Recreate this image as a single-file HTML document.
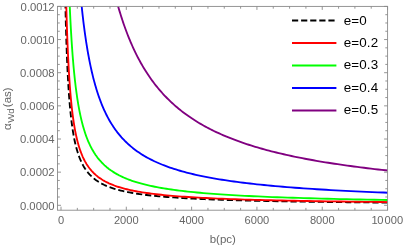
<!DOCTYPE html>
<html><head><meta charset="utf-8"><style>
html,body{margin:0;padding:0;background:#fff;}
body{width:405px;height:245px;position:relative;overflow:hidden;font-family:"Liberation Sans",sans-serif;}
.t{position:absolute;left:0;top:0;width:405px;height:245px;will-change:transform;transform:translateZ(0);}
.xt{position:absolute;top:212.9px;width:60px;text-align:center;font-size:11.1px;line-height:14px;color:#666;white-space:nowrap}
.yt{position:absolute;left:0;width:54.5px;text-align:right;font-size:11.3px;line-height:14px;color:#666}
.lg{position:absolute;left:343.7px;font-size:13.4px;line-height:16px;color:#000;letter-spacing:0.15px;white-space:nowrap}
.o{margin:0 -0.35px}
.xl{position:absolute;left:192.8px;width:60px;text-align:center;top:231.6px;font-size:11.5px;line-height:14px;color:#666}
.yl{position:absolute;left:-0.2px;top:129.9px;transform-origin:0 0;transform:rotate(-90deg);white-space:nowrap;font-size:11.5px;line-height:14px;color:#666}
.yl span{font-size:9.7px;position:relative;top:2.5px;margin:0 1.2px 0 0.5px}
</style></head><body>
<svg width="405" height="245" viewBox="0 0 405 245" style="position:absolute;left:0;top:0">
<defs><clipPath id="c"><rect x="57.5" y="6.4" width="330.1" height="203.79999999999998"/></clipPath></defs>
<g clip-path="url(#c)" fill="none" stroke-width="1.85" stroke-linejoin="round">
<path d="M65.16,-6.86 L65.27,-1.11 L65.39,4.48 L65.52,9.93 L65.64,15.22 L65.77,20.37 L65.90,25.38 L66.04,30.26 L66.18,35.00 L66.32,39.62 L66.47,44.11 L66.63,48.48 L66.78,52.73 L66.94,56.86 L67.11,60.88 L67.28,64.80 L67.45,68.61 L67.63,72.31 L67.82,75.91 L68.01,79.42 L68.20,82.83 L68.40,86.15 L68.61,89.38 L68.82,92.52 L69.04,95.58 L69.26,98.55 L69.49,101.44 L69.73,104.26 L69.97,107.00 L70.22,109.66 L70.48,112.25 L70.75,114.77 L71.02,117.23 L71.30,119.61 L71.58,121.94 L71.88,124.20 L72.18,126.39 L72.49,128.53 L72.81,130.61 L73.14,132.64 L73.48,134.61 L73.83,136.52 L74.18,138.39 L74.55,140.20 L74.93,141.96 L75.32,143.68 L75.72,145.35 L76.13,146.97 L76.55,148.56 L76.98,150.09 L77.43,151.59 L77.88,153.04 L78.35,154.46 L78.84,155.84 L79.33,157.18 L79.84,158.48 L80.37,159.75 L80.91,160.99 L81.46,162.19 L82.03,163.36 L82.62,164.49 L83.22,165.60 L83.84,166.67 L84.48,167.72 L85.13,168.74 L85.80,169.73 L86.49,170.69 L87.20,171.63 L87.93,172.54 L88.68,173.43 L89.46,174.30 L90.25,175.14 L91.06,175.95 L91.90,176.75 L92.76,177.52 L93.65,178.28 L94.56,179.01 L95.49,179.72 L96.45,180.41 L97.44,181.09 L98.45,181.74 L99.50,182.38 L100.57,183.00 L101.67,183.61 L102.80,184.20 L103.97,184.77 L105.17,185.32 L106.40,185.87 L107.66,186.39 L108.96,186.90 L110.30,187.40 L111.67,187.89 L113.08,188.36 L114.53,188.82 L116.02,189.27 L117.55,189.70 L119.13,190.12 L120.75,190.53 L122.41,190.93 L124.12,191.32 L125.88,191.70 L127.69,192.07 L129.55,192.43 L131.46,192.78 L133.42,193.12 L135.44,193.45 L137.51,193.77 L139.64,194.08 L141.83,194.39 L144.08,194.68 L146.40,194.97 L148.78,195.25 L151.22,195.52 L153.73,195.79 L156.32,196.04 L158.97,196.30 L161.70,196.54 L164.51,196.78 L167.39,197.01 L170.35,197.23 L173.40,197.45 L176.53,197.66 L179.75,197.87 L183.06,198.07 L186.46,198.27 L189.95,198.46 L193.54,198.64 L197.24,198.82 L201.03,199.00 L204.93,199.17 L208.94,199.34 L213.06,199.50 L217.30,199.66 L221.65,199.81 L226.13,199.96 L230.73,200.10 L235.45,200.24 L240.31,200.38 L245.31,200.51 L250.44,200.64 L255.72,200.77 L261.14,200.89 L266.72,201.01 L272.45,201.13 L278.34,201.24 L284.39,201.35 L290.61,201.46 L297.01,201.56 L303.58,201.66 L310.34,201.76 L317.29,201.86 L324.43,201.95 L331.76,202.04 L339.31,202.13 L347.06,202.22 L355.03,202.30 L363.22,202.38 L371.64,202.46 L380.29,202.54 L389.18,202.61" stroke="#000000" stroke-dasharray="6.2 2.9"/>
<path d="M65.97,-6.86 L66.11,-1.34 L66.24,4.03 L66.38,9.26 L66.53,14.36 L66.68,19.33 L66.83,24.16 L66.98,28.87 L67.14,33.46 L67.31,37.93 L67.47,42.28 L67.65,46.52 L67.82,50.65 L68.01,54.67 L68.19,58.59 L68.39,62.40 L68.58,66.12 L68.79,69.74 L68.99,73.26 L69.21,76.69 L69.43,80.04 L69.65,83.30 L69.88,86.47 L70.12,89.56 L70.36,92.57 L70.61,95.50 L70.87,98.35 L71.13,101.14 L71.40,103.84 L71.68,106.48 L71.97,109.05 L72.26,111.55 L72.56,113.99 L72.87,116.37 L73.18,118.68 L73.51,120.93 L73.84,123.13 L74.19,125.26 L74.54,127.34 L74.90,129.37 L75.27,131.34 L75.65,133.27 L76.04,135.14 L76.45,136.97 L76.86,138.74 L77.28,140.47 L77.72,142.16 L78.16,143.80 L78.62,145.40 L79.09,146.96 L79.57,148.47 L80.07,149.95 L80.58,151.39 L81.10,152.79 L81.64,154.16 L82.19,155.49 L82.75,156.78 L83.34,158.05 L83.93,159.27 L84.54,160.47 L85.17,161.64 L85.82,162.77 L86.48,163.88 L87.16,164.95 L87.86,166.00 L88.58,167.03 L89.31,168.02 L90.07,168.99 L90.84,169.93 L91.64,170.85 L92.46,171.75 L93.30,172.62 L94.16,173.47 L95.05,174.30 L95.96,175.11 L96.89,175.89 L97.85,176.66 L98.83,177.40 L99.84,178.13 L100.88,178.83 L101.94,179.52 L103.03,180.19 L104.16,180.84 L105.31,181.48 L106.49,182.10 L107.71,182.70 L108.95,183.29 L110.23,183.86 L111.55,184.42 L112.90,184.96 L114.28,185.49 L115.71,186.01 L117.17,186.51 L118.67,187.00 L120.21,187.47 L121.79,187.94 L123.41,188.39 L125.07,188.83 L126.79,189.26 L128.54,189.67 L130.34,190.08 L132.20,190.48 L134.10,190.86 L136.05,191.24 L138.05,191.60 L140.11,191.96 L142.22,192.31 L144.39,192.64 L146.62,192.97 L148.90,193.29 L151.25,193.61 L153.66,193.91 L156.13,194.21 L158.67,194.49 L161.28,194.77 L163.96,195.05 L166.70,195.32 L169.53,195.57 L172.42,195.83 L175.40,196.07 L178.45,196.31 L181.59,196.55 L184.81,196.78 L188.11,197.00 L191.51,197.21 L194.99,197.42 L198.57,197.63 L202.24,197.83 L206.01,198.02 L209.88,198.21 L213.86,198.40 L217.94,198.57 L222.13,198.75 L226.43,198.92 L230.85,199.09 L235.38,199.25 L240.04,199.40 L244.82,199.56 L249.72,199.71 L254.76,199.85 L259.93,199.99 L265.25,200.13 L270.70,200.27 L276.30,200.40 L282.04,200.53 L287.95,200.65 L294.00,200.77 L300.23,200.89 L306.61,201.00 L313.17,201.11 L319.90,201.22 L326.81,201.33 L333.91,201.43 L341.20,201.53 L348.68,201.63 L356.36,201.73 L364.24,201.82 L372.34,201.91 L380.65,202.00 L389.18,202.08" stroke="#ff0000"/>
<path d="M69.21,-6.86 L69.41,-2.00 L69.60,2.76 L69.81,7.40 L70.01,11.94 L70.22,16.37 L70.44,20.70 L70.66,24.93 L70.89,29.07 L71.12,33.11 L71.36,37.06 L71.60,40.91 L71.85,44.68 L72.11,48.36 L72.37,51.96 L72.63,55.48 L72.91,58.91 L73.19,62.27 L73.47,65.55 L73.76,68.75 L74.06,71.88 L74.37,74.94 L74.68,77.93 L75.00,80.85 L75.33,83.70 L75.67,86.49 L76.01,89.21 L76.37,91.88 L76.73,94.48 L77.10,97.02 L77.47,99.50 L77.86,101.92 L78.25,104.29 L78.66,106.61 L79.07,108.87 L79.50,111.08 L79.93,113.24 L80.38,115.35 L80.83,117.42 L81.30,119.43 L81.77,121.40 L82.26,123.32 L82.76,125.20 L83.27,127.04 L83.79,128.83 L84.33,130.59 L84.87,132.30 L85.43,133.97 L86.01,135.61 L86.59,137.21 L87.19,138.77 L87.81,140.29 L88.44,141.78 L89.08,143.24 L89.74,144.66 L90.42,146.05 L91.11,147.41 L91.81,148.74 L92.54,150.03 L93.28,151.30 L94.03,152.54 L94.81,153.75 L95.60,154.93 L96.41,156.08 L97.24,157.21 L98.09,158.32 L98.96,159.39 L99.86,160.45 L100.77,161.47 L101.70,162.48 L102.66,163.46 L103.63,164.42 L104.63,165.36 L105.66,166.27 L106.70,167.17 L107.78,168.04 L108.87,168.90 L110.00,169.73 L111.15,170.55 L112.32,171.34 L113.53,172.12 L114.76,172.88 L116.02,173.62 L117.31,174.35 L118.63,175.06 L119.99,175.75 L121.37,176.43 L122.79,177.09 L124.24,177.74 L125.72,178.37 L127.24,178.99 L128.79,179.59 L130.38,180.18 L132.01,180.76 L133.68,181.32 L135.38,181.87 L137.13,182.41 L138.92,182.93 L140.74,183.44 L142.61,183.95 L144.53,184.44 L146.49,184.91 L148.50,185.38 L150.55,185.84 L152.65,186.28 L154.80,186.72 L157.00,187.15 L159.25,187.56 L161.56,187.97 L163.92,188.37 L166.33,188.75 L168.80,189.13 L171.33,189.50 L173.92,189.87 L176.57,190.22 L179.28,190.57 L182.06,190.90 L184.90,191.23 L187.81,191.56 L190.78,191.87 L193.83,192.18 L196.94,192.48 L200.13,192.77 L203.40,193.06 L206.74,193.34 L210.16,193.62 L213.66,193.88 L217.24,194.15 L220.91,194.40 L224.66,194.65 L228.50,194.89 L232.43,195.13 L236.45,195.37 L240.57,195.59 L244.78,195.82 L249.09,196.03 L253.51,196.25 L258.03,196.45 L262.65,196.66 L267.38,196.86 L272.22,197.05 L277.18,197.24 L282.25,197.42 L287.44,197.60 L292.75,197.78 L298.19,197.95 L303.76,198.12 L309.45,198.29 L315.28,198.45 L321.25,198.60 L327.36,198.76 L333.61,198.91 L340.00,199.05 L346.55,199.20 L353.25,199.34 L360.11,199.47 L367.12,199.61 L374.31,199.74 L381.66,199.86 L389.18,199.99" stroke="#00ff00"/>
<path d="M80.39,-6.86 L80.74,-3.12 L81.09,0.56 L81.45,4.17 L81.82,7.71 L82.19,11.20 L82.57,14.62 L82.96,17.98 L83.35,21.29 L83.76,24.53 L84.16,27.72 L84.58,30.85 L85.00,33.93 L85.43,36.95 L85.87,39.92 L86.32,42.83 L86.77,45.70 L87.24,48.51 L87.71,51.28 L88.19,53.99 L88.68,56.66 L89.17,59.28 L89.68,61.86 L90.19,64.39 L90.72,66.87 L91.25,69.31 L91.79,71.71 L92.35,74.07 L92.91,76.38 L93.48,78.66 L94.06,80.89 L94.66,83.08 L95.26,85.24 L95.88,87.36 L96.50,89.44 L97.14,91.48 L97.79,93.49 L98.45,95.46 L99.12,97.39 L99.81,99.30 L100.50,101.17 L101.21,103.00 L101.93,104.81 L102.67,106.58 L103.42,108.32 L104.18,110.03 L104.95,111.71 L105.74,113.36 L106.54,114.98 L107.36,116.57 L108.19,118.14 L109.04,119.68 L109.90,121.19 L110.78,122.67 L111.68,124.13 L112.59,125.56 L113.51,126.96 L114.45,128.35 L115.41,129.70 L116.39,131.04 L117.38,132.35 L118.40,133.63 L119.43,134.90 L120.48,136.14 L121.54,137.36 L122.63,138.55 L123.74,139.73 L124.86,140.89 L126.01,142.02 L127.18,143.14 L128.36,144.24 L129.57,145.31 L130.80,146.37 L132.06,147.41 L133.33,148.43 L134.63,149.43 L135.95,150.42 L137.30,151.39 L138.67,152.34 L140.06,153.27 L141.48,154.19 L142.93,155.09 L144.40,155.98 L145.89,156.85 L147.42,157.70 L148.97,158.54 L150.55,159.36 L152.16,160.17 L153.79,160.97 L155.46,161.75 L157.15,162.52 L158.88,163.27 L160.64,164.01 L162.43,164.74 L164.25,165.46 L166.10,166.16 L167.99,166.85 L169.91,167.53 L171.86,168.19 L173.85,168.85 L175.88,169.49 L177.94,170.12 L180.04,170.74 L182.18,171.35 L184.35,171.95 L186.56,172.54 L188.82,173.12 L191.11,173.68 L193.45,174.24 L195.83,174.79 L198.25,175.33 L200.71,175.86 L203.22,176.38 L205.77,176.89 L208.37,177.39 L211.02,177.88 L213.71,178.36 L216.45,178.84 L219.24,179.30 L222.08,179.76 L224.97,180.21 L227.92,180.66 L230.91,181.09 L233.96,181.52 L237.07,181.94 L240.23,182.35 L243.44,182.75 L246.72,183.15 L250.05,183.54 L253.45,183.93 L256.90,184.30 L260.42,184.67 L264.00,185.04 L267.64,185.39 L271.35,185.74 L275.13,186.09 L278.97,186.43 L282.88,186.76 L286.87,187.09 L290.92,187.41 L295.05,187.72 L299.25,188.03 L303.53,188.34 L307.88,188.64 L312.31,188.93 L316.82,189.22 L321.42,189.50 L326.09,189.78 L330.85,190.06 L335.69,190.32 L340.62,190.59 L345.64,190.85 L350.75,191.10 L355.95,191.35 L361.25,191.60 L366.64,191.84 L372.13,192.08 L377.71,192.31 L383.40,192.54 L389.18,192.77" stroke="#0000ff"/>
<path d="M114.57,-6.86 L115.19,-4.46 L115.81,-2.08 L116.44,0.27 L117.07,2.60 L117.72,4.89 L118.37,7.17 L119.02,9.41 L119.69,11.63 L120.36,13.83 L121.04,16.00 L121.73,18.14 L122.43,20.26 L123.13,22.36 L123.84,24.44 L124.57,26.49 L125.29,28.51 L126.03,30.52 L126.78,32.50 L127.53,34.46 L128.29,36.39 L129.06,38.31 L129.85,40.20 L130.63,42.07 L131.43,43.92 L132.24,45.75 L133.06,47.56 L133.88,49.35 L134.72,51.11 L135.56,52.86 L136.42,54.59 L137.28,56.30 L138.16,57.99 L139.04,59.66 L139.94,61.31 L140.84,62.94 L141.76,64.55 L142.68,66.15 L143.62,67.73 L144.57,69.28 L145.53,70.83 L146.49,72.35 L147.47,73.86 L148.47,75.35 L149.47,76.82 L150.48,78.28 L151.51,79.72 L152.55,81.14 L153.60,82.55 L154.66,83.94 L155.73,85.31 L156.82,86.67 L157.92,88.02 L159.03,89.35 L160.15,90.66 L161.29,91.96 L162.44,93.25 L163.60,94.52 L164.78,95.77 L165.97,97.01 L167.17,98.24 L168.39,99.45 L169.62,100.65 L170.86,101.84 L172.12,103.01 L173.40,104.17 L174.69,105.32 L175.99,106.45 L177.31,107.57 L178.64,108.68 L179.99,109.78 L181.35,110.86 L182.73,111.93 L184.13,112.99 L185.54,114.03 L186.97,115.07 L188.41,116.09 L189.87,117.10 L191.35,118.10 L192.84,119.09 L194.36,120.07 L195.88,121.03 L197.43,121.99 L199.00,122.93 L200.58,123.87 L202.18,124.79 L203.80,125.70 L205.43,126.60 L207.09,127.50 L208.76,128.38 L210.46,129.25 L212.17,130.11 L213.90,130.96 L215.66,131.81 L217.43,132.64 L219.22,133.46 L221.04,134.28 L222.87,135.08 L224.73,135.88 L226.61,136.66 L228.50,137.44 L230.42,138.21 L232.37,138.97 L234.33,139.72 L236.32,140.47 L238.33,141.20 L240.36,141.93 L242.42,142.65 L244.50,143.36 L246.60,144.06 L248.73,144.75 L250.88,145.44 L253.06,146.12 L255.26,146.79 L257.49,147.45 L259.74,148.11 L262.02,148.76 L264.32,149.40 L266.65,150.03 L269.01,150.66 L271.40,151.28 L273.81,151.89 L276.25,152.49 L278.72,153.09 L281.21,153.68 L283.74,154.27 L286.29,154.85 L288.87,155.42 L291.49,155.99 L294.13,156.54 L296.80,157.10 L299.50,157.64 L302.24,158.18 L305.00,158.72 L307.80,159.25 L310.63,159.77 L313.49,160.28 L316.39,160.79 L319.32,161.30 L322.28,161.80 L325.27,162.29 L328.30,162.78 L331.37,163.26 L334.47,163.74 L337.60,164.21 L340.77,164.67 L343.98,165.13 L347.23,165.59 L350.51,166.04 L353.83,166.48 L357.18,166.92 L360.58,167.36 L364.01,167.79 L367.49,168.21 L371.00,168.63 L374.55,169.05 L378.15,169.46 L381.79,169.87 L385.46,170.27 L389.18,170.67" stroke="#800080"/>
</g>
<rect x="57.5" y="6.4" width="330.1" height="203.79999999999998" fill="none" stroke="#8a8a8a" stroke-width="0.9"/>
<path d="M61.00,210.2 v-3.5 M61.00,6.4 v3.5 M77.33,210.2 v-2.3 M77.33,6.4 v2.3 M93.66,210.2 v-2.3 M93.66,6.4 v2.3 M109.98,210.2 v-2.3 M109.98,6.4 v2.3 M126.31,210.2 v-3.5 M126.31,6.4 v3.5 M142.64,210.2 v-2.3 M142.64,6.4 v2.3 M158.97,210.2 v-2.3 M158.97,6.4 v2.3 M175.29,210.2 v-2.3 M175.29,6.4 v2.3 M191.62,210.2 v-3.5 M191.62,6.4 v3.5 M207.95,210.2 v-2.3 M207.95,6.4 v2.3 M224.28,210.2 v-2.3 M224.28,6.4 v2.3 M240.60,210.2 v-2.3 M240.60,6.4 v2.3 M256.93,210.2 v-3.5 M256.93,6.4 v3.5 M273.26,210.2 v-2.3 M273.26,6.4 v2.3 M289.59,210.2 v-2.3 M289.59,6.4 v2.3 M305.91,210.2 v-2.3 M305.91,6.4 v2.3 M322.24,210.2 v-3.5 M322.24,6.4 v3.5 M338.57,210.2 v-2.3 M338.57,6.4 v2.3 M354.90,210.2 v-2.3 M354.90,6.4 v2.3 M371.22,210.2 v-2.3 M371.22,6.4 v2.3 M387.55,210.2 v-3.5 M387.55,6.4 v3.5 M57.5,205.30 h3.5 M387.6,205.30 h-3.5 M57.5,197.01 h2.3 M387.6,197.01 h-2.3 M57.5,188.73 h2.3 M387.6,188.73 h-2.3 M57.5,180.44 h2.3 M387.6,180.44 h-2.3 M57.5,172.15 h3.5 M387.6,172.15 h-3.5 M57.5,163.86 h2.3 M387.6,163.86 h-2.3 M57.5,155.58 h2.3 M387.6,155.58 h-2.3 M57.5,147.29 h2.3 M387.6,147.29 h-2.3 M57.5,139.00 h3.5 M387.6,139.00 h-3.5 M57.5,130.71 h2.3 M387.6,130.71 h-2.3 M57.5,122.43 h2.3 M387.6,122.43 h-2.3 M57.5,114.14 h2.3 M387.6,114.14 h-2.3 M57.5,105.85 h3.5 M387.6,105.85 h-3.5 M57.5,97.56 h2.3 M387.6,97.56 h-2.3 M57.5,89.28 h2.3 M387.6,89.28 h-2.3 M57.5,80.99 h2.3 M387.6,80.99 h-2.3 M57.5,72.70 h3.5 M387.6,72.70 h-3.5 M57.5,64.41 h2.3 M387.6,64.41 h-2.3 M57.5,56.12 h2.3 M387.6,56.12 h-2.3 M57.5,47.84 h2.3 M387.6,47.84 h-2.3 M57.5,39.55 h3.5 M387.6,39.55 h-3.5 M57.5,31.26 h2.3 M387.6,31.26 h-2.3 M57.5,22.97 h2.3 M387.6,22.97 h-2.3 M57.5,14.69 h2.3 M387.6,14.69 h-2.3 M57.5,6.40 h3.5 M387.6,6.40 h-3.5" stroke="#8a8a8a" stroke-width="0.9" fill="none"/>
<path d="M292,20.5 H336.4" stroke="#000000" stroke-width="2" stroke-dasharray="6.2 2.9" fill="none"/>
<path d="M292,43 H336.4" stroke="#ff0000" stroke-width="2" fill="none"/>
<path d="M292,65.4 H336.4" stroke="#00ff00" stroke-width="2" fill="none"/>
<path d="M292,87.9 H336.4" stroke="#0000ff" stroke-width="2" fill="none"/>
<path d="M292,110.4 H336.4" stroke="#800080" stroke-width="2" fill="none"/>
</svg>
<div class="t"><div class="xt" style="left:31.00px">0</div><div class="xt" style="left:96.31px">2000</div><div class="xt" style="left:161.62px">4000</div><div class="xt" style="left:226.93px">6000</div><div class="xt" style="left:292.24px">8000</div><div class="xt" style="left:357.50px"><span style="margin:0 -0.4px">1</span>0<span style="margin-left:1.2px">000</span></div><div class="yt" style="top:198.55px">0.0000</div><div class="yt" style="top:165.40px">0.0002</div><div class="yt" style="top:132.25px">0.0004</div><div class="yt" style="top:99.10px">0.0006</div><div class="yt" style="top:65.95px">0.0008</div><div class="yt" style="top:32.80px">0.00<span class="o">1</span>0</div><div class="yt" style="top:-0.35px">0.00<span class="o">1</span>2</div><div class="lg" style="top:12.50px">e=0</div><div class="lg" style="top:35.00px">e=0.2</div><div class="lg" style="top:57.40px">e=0.3</div><div class="lg" style="top:79.90px">e=0.4</div><div class="lg" style="top:102.40px">e=0.5</div>
<div class="xl">b(pc)</div>
<div class="yl">&alpha;<span>Wd</span>(as)</div></div>
</body></html>
